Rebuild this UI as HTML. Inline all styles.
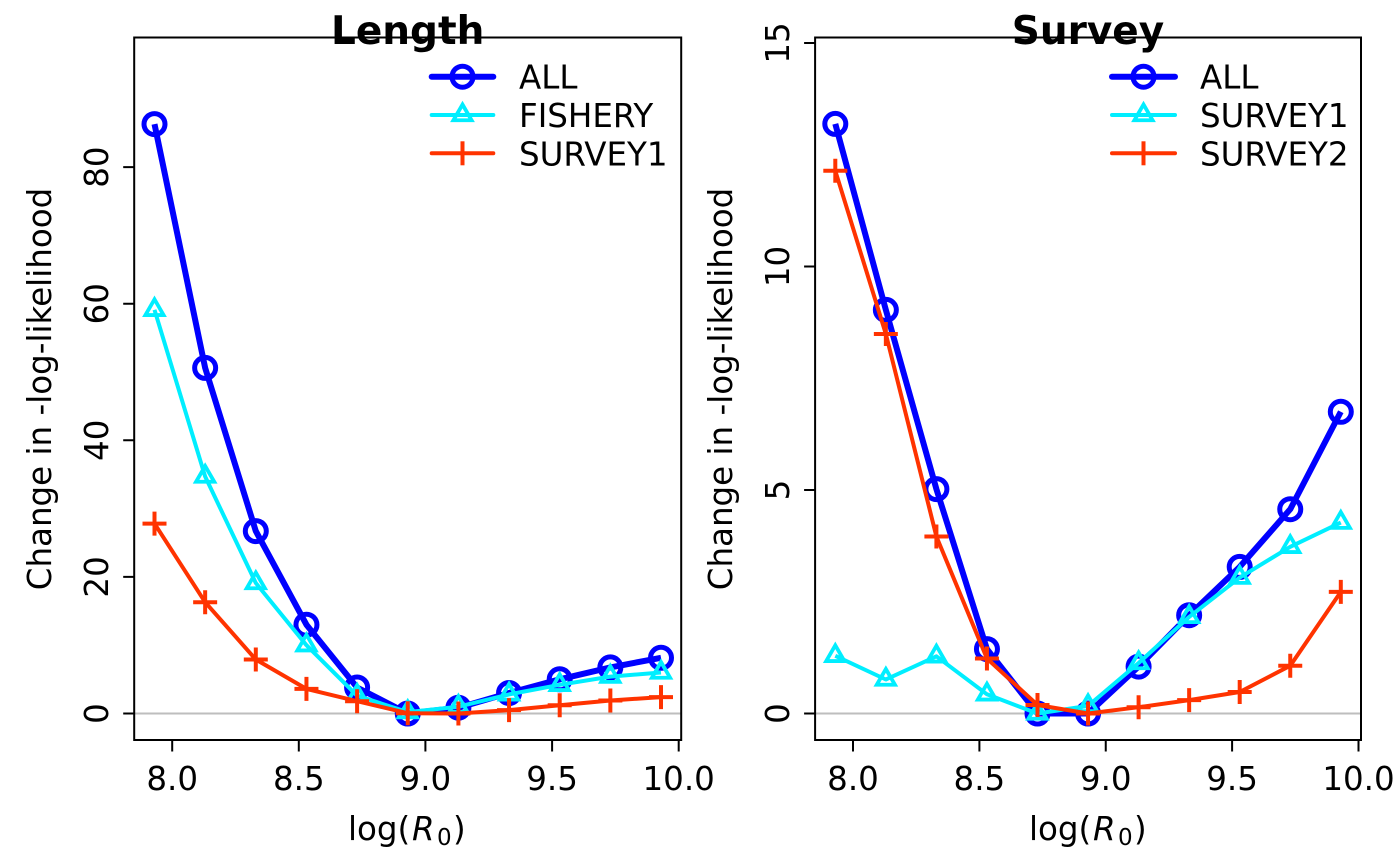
<!DOCTYPE html>
<html>
<head>
<meta charset="utf-8">
<style>
html,body{margin:0;padding:0;background:#fff;}
svg{display:block;}
text{font-family:"DejaVu Sans","Liberation Sans",sans-serif;fill:#000;}
</style>
</head>
<body>
<svg width="1400" height="865" viewBox="0 0 1400 865" xmlns="http://www.w3.org/2000/svg">
<rect x="0" y="0" width="1400" height="865" fill="#fff"/>

<!-- ================= LEFT PANEL (Length) ================= -->
<line x1="134.2" y1="713.5" x2="681.2" y2="713.5" stroke="#bebebe" stroke-width="2"/>

<!-- ALL -->
<polyline fill="none" stroke="#0000ff" stroke-width="6" stroke-linejoin="round" points="154.5,124.1 205.15,367.9 255.8,531.1 306.45,624.7 357.1,687.5 407.75,713.5 458.4,707.7 509.05,693 559.7,679.3 610.35,667.4 661,657.8"/>
<g fill="none" stroke="#0000ff" stroke-width="5">
<circle cx="154.5" cy="124.1" r="10.5"/><circle cx="205.15" cy="367.9" r="10.5"/><circle cx="255.8" cy="531.1" r="10.5"/><circle cx="306.45" cy="624.7" r="10.5"/><circle cx="357.1" cy="687.5" r="10.5"/><circle cx="407.75" cy="713.5" r="10.5"/><circle cx="458.4" cy="707.7" r="10.5"/><circle cx="509.05" cy="693" r="10.5"/><circle cx="559.7" cy="679.3" r="10.5"/><circle cx="610.35" cy="667.4" r="10.5"/><circle cx="661" cy="657.8" r="10.5"/>
</g>

<!-- FISHERY -->
<polyline fill="none" stroke="#00eeff" stroke-width="4" stroke-linejoin="round" points="154.5,309.8 205.15,476.5 255.8,583 306.45,645.2 357.1,695.7 407.75,712.1 458.4,706.7 509.05,694.4 559.7,684.8 610.35,676.6 661,672.5"/>
<g fill="none" stroke="#00eeff" stroke-width="3.8" stroke-linejoin="miter">
<polygon points="154.5,299.3 163.6,315.05 145.4,315.05"/>
<polygon points="205.15,466 214.25,481.75 196.05,481.75"/>
<polygon points="255.8,572.5 264.9,588.25 246.7,588.25"/>
<polygon points="306.45,634.7 315.55,650.45 297.35,650.45"/>
<polygon points="357.1,685.2 366.2,700.95 348,700.95"/>
<polygon points="407.75,701.6 416.85,717.35 398.65,717.35"/>
<polygon points="458.4,696.2 467.5,711.95 449.3,711.95"/>
<polygon points="509.05,683.9 518.15,699.65 499.95,699.65"/>
<polygon points="559.7,674.3 568.8,690.05 550.6,690.05"/>
<polygon points="610.35,666.1 619.45,681.85 601.25,681.85"/>
<polygon points="661,662 670.1,677.75 651.9,677.75"/>
</g>

<!-- SURVEY1 -->
<polyline fill="none" stroke="#ff3300" stroke-width="4" stroke-linejoin="round" points="154.5,523.6 205.15,602.2 255.8,659.5 306.45,688.9 357.1,701.2 407.75,713.2 458.4,713.5 509.05,710.1 559.7,705.3 610.35,700.5 661,697.1"/>
<path fill="none" stroke="#ff3300" stroke-width="4" d="M142.5 523.6h24m-12 -12v24 M193.15 602.2h24m-12 -12v24 M243.8 659.5h24m-12 -12v24 M294.45 688.9h24m-12 -12v24 M345.1 701.2h24m-12 -12v24 M395.75 713.2h24m-12 -12v24 M446.4 713.5h24m-12 -12v24 M497.05 710.1h24m-12 -12v24 M547.7 705.3h24m-12 -12v24 M598.35 700.5h24m-12 -12v24 M649 697.1h24m-12 -12v24"/>

<!-- box -->
<rect x="134.2" y="37.5" width="547" height="702.5" fill="none" stroke="#000" stroke-width="2"/>

<!-- y ticks -->
<path stroke="#000" stroke-width="2" d="M134.2 713.5h-11 M134.2 576.9h-11 M134.2 440.3h-11 M134.2 303.7h-11 M134.2 167.1h-11"/>
<g font-size="32.5" text-anchor="middle">
<text transform="translate(108,713.5) rotate(-90)">0</text>
<text transform="translate(108,576.9) rotate(-90)">20</text>
<text transform="translate(108,440.3) rotate(-90)">40</text>
<text transform="translate(108,303.7) rotate(-90)">60</text>
<text transform="translate(108,167.1) rotate(-90)">80</text>
</g>
<!-- x ticks -->
<path stroke="#000" stroke-width="2" d="M172.2 740v11.5 M298.8 740v11.5 M425.4 740v11.5 M552.1 740v11.5 M678.7 740v11.5"/>
<g font-size="32.5" text-anchor="middle">
<text x="172.2" y="790">8.0</text>
<text x="298.8" y="790">8.5</text>
<text x="425.4" y="790">9.0</text>
<text x="552.1" y="790">9.5</text>
<text x="678.7" y="790">10.0</text>
</g>
<!-- axis labels -->
<text font-size="32.5" text-anchor="middle" transform="translate(51,389) rotate(-90)">Change in -log-likelihood</text>
<text font-size="32.5" x="348" y="840">log(</text>
<text font-size="32.5" x="412" y="840" font-style="italic">R</text>
<text font-size="23" x="437" y="845">0</text>
<text font-size="32.5" x="453" y="840">)</text>
<!-- title -->
<text font-size="39" font-weight="bold" text-anchor="middle" x="407.7" y="44">Length</text>

<!-- legend left -->
<line x1="431.7" y1="76.7" x2="493.3" y2="76.7" stroke="#0000ff" stroke-width="6" stroke-linecap="round"/>
<circle cx="462.5" cy="76.7" r="10.5" fill="none" stroke="#0000ff" stroke-width="5"/>
<line x1="431.7" y1="115" x2="493.3" y2="115" stroke="#00eeff" stroke-width="4" stroke-linecap="round"/>
<polygon points="462.5,104.5 471.6,120.25 453.4,120.25" fill="none" stroke="#00eeff" stroke-width="3.8"/>
<line x1="431.7" y1="153.3" x2="493.3" y2="153.3" stroke="#ff3300" stroke-width="4" stroke-linecap="round"/>
<path d="M462.5 141.3v24" stroke="#ff3300" stroke-width="4"/>
<g font-size="32.5">
<text x="519" y="88.7">ALL</text>
<text x="519" y="127">FISHERY</text>
<text x="519" y="165.3">SURVEY1</text>
</g>

<!-- ================= RIGHT PANEL (Survey) ================= -->
<line x1="815.1" y1="713.5" x2="1361" y2="713.5" stroke="#bebebe" stroke-width="2"/>

<!-- ALL -->
<polyline fill="none" stroke="#0000ff" stroke-width="6" stroke-linejoin="round" points="835.3,123.9 885.85,309.9 936.4,489.1 986.95,649.1 1037.5,713.5 1088.05,713.5 1138.6,666.6 1189.15,615.2 1239.7,566.9 1290.25,509.2 1340.8,411.8"/>
<g fill="none" stroke="#0000ff" stroke-width="5">
<circle cx="835.3" cy="123.9" r="10.5"/><circle cx="885.85" cy="309.9" r="10.5"/><circle cx="936.4" cy="489.1" r="10.5"/><circle cx="986.95" cy="649.1" r="10.5"/><circle cx="1037.5" cy="713.5" r="10.5"/><circle cx="1088.05" cy="713.5" r="10.5"/><circle cx="1138.6" cy="666.6" r="10.5"/><circle cx="1189.15" cy="615.2" r="10.5"/><circle cx="1239.7" cy="566.9" r="10.5"/><circle cx="1290.25" cy="509.2" r="10.5"/><circle cx="1340.8" cy="411.8" r="10.5"/>
</g>

<!-- SURVEY1 -->
<polyline fill="none" stroke="#00eeff" stroke-width="4" stroke-linejoin="round" points="835.3,655.8 885.85,679.5 936.4,656.3 986.95,694.3 1037.5,713.5 1088.05,705.9 1138.6,663 1189.15,616.9 1239.7,577.6 1290.25,546.8 1340.8,522.6"/>
<g fill="none" stroke="#00eeff" stroke-width="3.8">
<polygon points="835.3,645.3 844.4,661.05 826.2,661.05"/>
<polygon points="885.85,669 894.95,684.75 876.75,684.75"/>
<polygon points="936.4,645.8 945.5,661.55 927.3,661.55"/>
<polygon points="986.95,683.8 996.05,699.55 977.85,699.55"/>
<polygon points="1037.5,703 1046.6,718.75 1028.4,718.75"/>
<polygon points="1088.05,695.4 1097.15,711.15 1078.95,711.15"/>
<polygon points="1138.6,652.5 1147.7,668.25 1129.5,668.25"/>
<polygon points="1189.15,606.4 1198.25,622.15 1180.05,622.15"/>
<polygon points="1239.7,567.1 1248.8,582.85 1230.6,582.85"/>
<polygon points="1290.25,536.3 1299.35,552.05 1281.15,552.05"/>
<polygon points="1340.8,512.1 1349.9,527.85 1331.7,527.85"/>
</g>

<!-- SURVEY2 -->
<polyline fill="none" stroke="#ff3300" stroke-width="4" stroke-linejoin="round" points="835.3,170.8 885.85,334 936.4,536.5 986.95,658.5 1037.5,705 1088.05,713.5 1138.6,707.2 1189.15,700.1 1239.7,692 1290.25,665.7 1340.8,591.9"/>
<path fill="none" stroke="#ff3300" stroke-width="4" d="M823.3 170.8h24m-12 -12v24 M873.85 334h24m-12 -12v24 M924.4 536.5h24m-12 -12v24 M974.95 658.5h24m-12 -12v24 M1025.5 705h24m-12 -12v24 M1076.05 713.5h24m-12 -12v24 M1126.6 707.2h24m-12 -12v24 M1177.15 700.1h24m-12 -12v24 M1227.7 692h24m-12 -12v24 M1278.25 665.7h24m-12 -12v24 M1328.8 591.9h24m-12 -12v24"/>

<!-- box -->
<rect x="815.1" y="37.5" width="545.9" height="702.5" fill="none" stroke="#000" stroke-width="2"/>

<!-- y ticks -->
<path stroke="#000" stroke-width="2" d="M815.1 713.5h-11 M815.1 490h-11 M815.1 266.5h-11 M815.1 43h-11"/>
<g font-size="32.5" text-anchor="middle">
<text transform="translate(789,713.5) rotate(-90)">0</text>
<text transform="translate(789,490) rotate(-90)">5</text>
<text transform="translate(789,266.5) rotate(-90)">10</text>
<text transform="translate(789,43) rotate(-90)">15</text>
</g>
<!-- x ticks -->
<path stroke="#000" stroke-width="2" d="M853 740v11.5 M979.4 740v11.5 M1105.75 740v11.5 M1232.1 740v11.5 M1358.5 740v11.5"/>
<g font-size="32.5" text-anchor="middle">
<text x="853" y="790">8.0</text>
<text x="979.4" y="790">8.5</text>
<text x="1105.75" y="790">9.0</text>
<text x="1232.1" y="790">9.5</text>
<text x="1358.5" y="790">10.0</text>
</g>
<!-- axis labels -->
<text font-size="32.5" text-anchor="middle" transform="translate(732,389) rotate(-90)">Change in -log-likelihood</text>
<text font-size="32.5" x="1029" y="840">log(</text>
<text font-size="32.5" x="1093" y="840" font-style="italic">R</text>
<text font-size="23" x="1118" y="845">0</text>
<text font-size="32.5" x="1134" y="840">)</text>
<!-- title -->
<text font-size="39" font-weight="bold" text-anchor="middle" x="1088" y="44">Survey</text>

<!-- legend right -->
<line x1="1112" y1="76.7" x2="1175" y2="76.7" stroke="#0000ff" stroke-width="6" stroke-linecap="round"/>
<circle cx="1143.5" cy="76.7" r="10.5" fill="none" stroke="#0000ff" stroke-width="5"/>
<line x1="1112" y1="115" x2="1175" y2="115" stroke="#00eeff" stroke-width="4" stroke-linecap="round"/>
<polygon points="1143.5,104.5 1152.6,120.25 1134.4,120.25" fill="none" stroke="#00eeff" stroke-width="3.8"/>
<line x1="1112" y1="153.3" x2="1175" y2="153.3" stroke="#ff3300" stroke-width="4" stroke-linecap="round"/>
<path d="M1143.5 141.3v24" stroke="#ff3300" stroke-width="4"/>
<g font-size="32.5">
<text x="1200" y="88.7">ALL</text>
<text x="1200" y="127">SURVEY1</text>
<text x="1200" y="165.3">SURVEY2</text>
</g>
</svg>
</body>
</html>
